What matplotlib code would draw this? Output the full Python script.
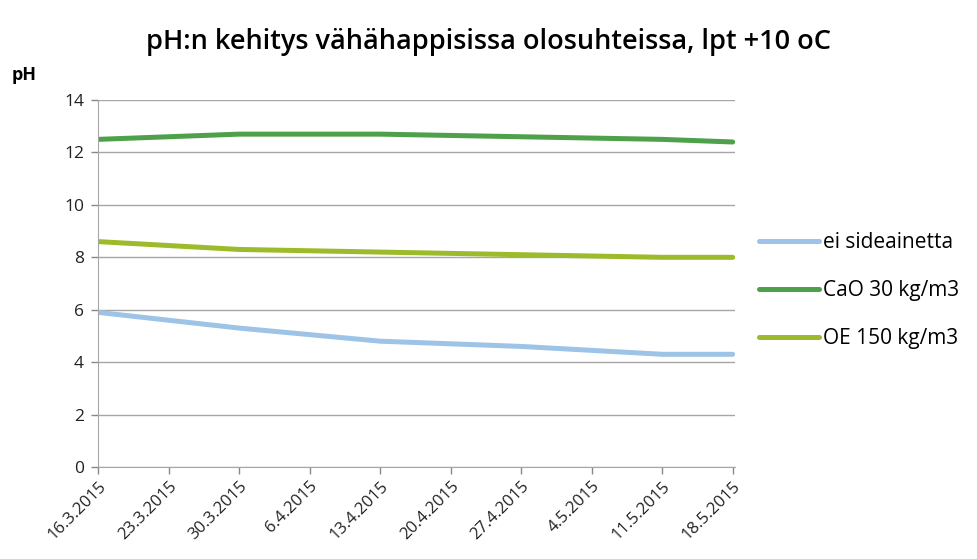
import matplotlib.pyplot as plt
import pandas as pd

# mittauspäivät ja pH-arvot
dates = pd.to_datetime(["2015-03-16", "2015-03-30", "2015-04-13",
                        "2015-04-27", "2015-05-11", "2015-05-18"])
ei_sideainetta = [5.9, 5.3, 4.8, 4.6, 4.3, 4.3]
cao_30 = [12.5, 12.7, 12.7, 12.6, 12.5, 12.4]
oe_150 = [8.6, 8.3, 8.2, 8.1, 8.0, 8.0]

tick_dates = pd.date_range("2015-03-16", "2015-05-18", freq="7D")
tick_labels = [f"{d.day}.{d.month}.{d.year}" for d in tick_dates]

plt.rcParams['font.family'] = ['Open Sans', 'DejaVu Sans']

fig = plt.figure(figsize=(9.77, 5.59), dpi=100)
ax = fig.add_axes([0.1003, 0.1646, 0.6517, 0.6564])

ax.plot(dates, ei_sideainetta, color="#9DC3E6", lw=3.6, label="ei sideainetta",
        solid_capstyle="round")
ax.plot(dates, cao_30, color="#4EA04A", lw=3.6, label="CaO 30 kg/m3",
        solid_capstyle="round")
ax.plot(dates, oe_150, color="#9BBB2A", lw=3.6, label="OE 150 kg/m3",
        solid_capstyle="round")

ax.set_xlim(tick_dates[0], tick_dates[-1] + pd.Timedelta(days=0.2))
ax.set_ylim(0, 14)
ax.set_yticks(range(0, 15, 2))
ax.set_xticks(tick_dates)
ax.set_xticklabels(tick_labels, rotation=45, ha="right", rotation_mode="anchor",
                   fontsize=12)
ax.tick_params(axis="y", labelsize=12.5, colors="#888888", length=5, width=1,
               labelcolor="#222222", pad=5)
ax.tick_params(axis="x", colors="#888888", length=5, width=1,
               labelcolor="#222222", pad=3)

ax.grid(axis="y", color="#A6A6A6", lw=1)
ax.set_axisbelow(True)
for s in ["top", "right"]:
    ax.spines[s].set_visible(False)
ax.spines["left"].set_color("#A6A6A6")
ax.spines["bottom"].set_color("#A6A6A6")

fig.text(0.5, 0.925, "pH:n kehitys vähähappisissa olosuhteissa, lpt +10 oC",
         ha="center", va="center", fontsize=19.5, fontweight="semibold")
fig.text(0.012, 0.866, "pH", fontsize=13, fontweight="bold", va="center")

ax.legend(loc="center left", bbox_to_anchor=(1.015, 0.481), frameon=False,
          fontsize=15, handlelength=2.9, handletextpad=0.2, labelspacing=1.3,
          borderaxespad=0.3)

fig.savefig("out.png", dpi=100)
